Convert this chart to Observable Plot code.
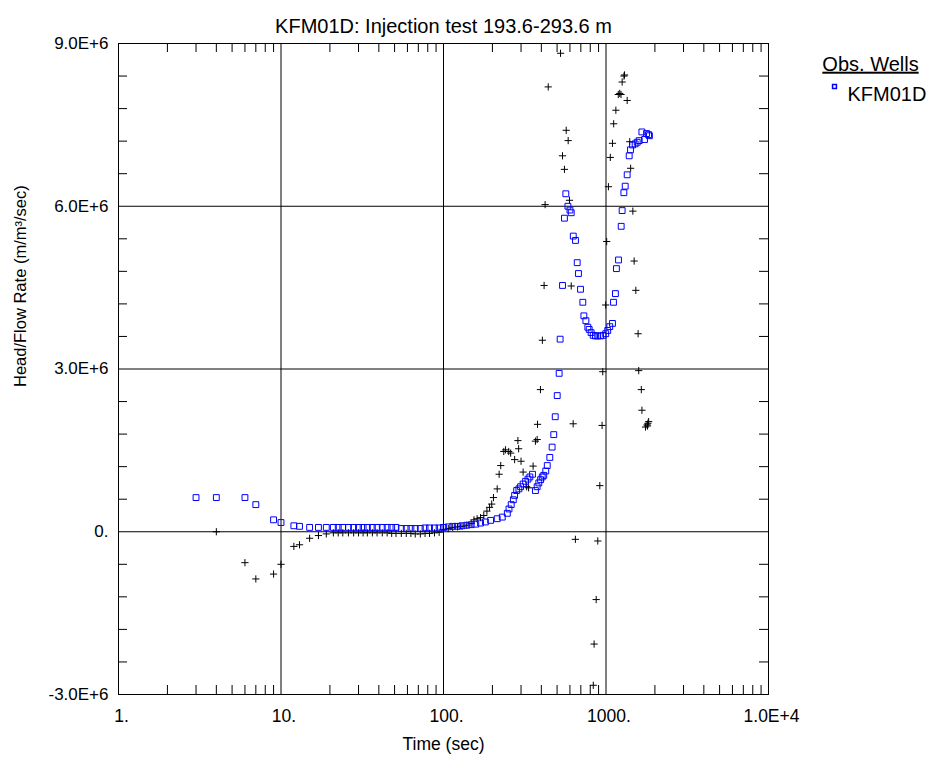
<!DOCTYPE html>
<html><head><meta charset="utf-8">
<script src="https://cdn.jsdelivr.net/npm/d3@7"></script>
<script src="https://cdn.jsdelivr.net/npm/@observablehq/plot@0.6"></script>
<style>
body{margin:0;background:#fff;}
svg{font-family:"Liberation Sans",Arial,sans-serif;}
</style>
</head><body><div id="chart"></div>
<script>
// ---- data (values in millions of m/m³/sec) ----
const headTime = [3,4,6,7,9,10,12,13,15,17,19,21,22.5,24,26,28,30,32,34,36.5,39,42,45,48,51,55,59,63,67,72,77,82,88,94,
  100,107,114,122,130,139,148,158,169,181,195,214,230,247,253,261,269,274,282,291,298,309,320,331,340,353,
  368,377,386,396,405,414,426,435,451,466,477,487,501,515,522,540,555,566,583,600,611,629,649,665,677,697,720,731,752,773,788,810,834,861,890,925,960,996,1025,1055,1096,
  1112,1143,1159,1194,1240,1257,1288,1313,1350,1389,1415,1456,1511,1556,1600,1663,1727,1776,1828,1850];
const headValue = [0.63,0.63,0.63,0.50,0.22,0.17,0.11,0.10,0.08,0.08,0.08,0.08,0.08,0.08,0.08,0.08,0.08,0.08,0.08,0.08,0.08,0.08,0.08,0.08,0.08,0.06,0.06,0.06,0.06,0.06,0.07,0.07,0.07,0.07,
  0.08,0.09,0.10,0.10,0.11,0.12,0.13,0.14,0.16,0.18,0.21,0.24,0.27,0.34,0.42,0.50,0.59,0.67,0.76,0.79,0.83,0.88,0.93,0.97,1.01,1.06,
  0.76,0.83,0.90,0.96,1.01,1.04,1.12,1.22,1.37,1.56,1.79,2.12,2.51,2.92,3.55,4.54,5.78,6.23,6.00,5.93,5.88,5.45,5.37,4.96,4.76,4.47,4.23,3.98,3.89,3.77,3.73,3.67,3.62,3.61,3.61,3.61,3.62,3.65,3.71,3.78,3.84,
  4.23,4.39,4.85,5.01,5.63,5.92,6.25,6.37,6.58,6.93,7.04,7.13,7.15,7.18,7.21,7.37,7.23,7.34,7.32,7.30];

const derivTime = [4,6,7,9,10,12,13,15,17,19,21,22.5,24,26,28,30,32,34,36.5,39,42,45,48,51,55,59,63,67,72,77,82,88,94,
  100,107,114,122,130,139,148,154,161,169,177,185,192,198,203,214,220,225,235,241,252,259,274,287,290,300,309,325,334,356,368,377,379,
  395,406,416,422,441,525,540,555,569,585,596,611,628,648,835,845,870,890,916,946,955,996,1010,1035,1063,1096,1115,1150,1190,1215,1237,1257,1290,1300,
  1350,1400,1418,1463,1490,1526,1576,1590,1649,1664,1750,1790,1800,1810,1830];
const derivValue = [0.0,-0.57,-0.87,-0.78,-0.60,-0.27,-0.24,-0.12,-0.07,-0.04,-0.02,-0.02,-0.02,-0.02,-0.02,-0.02,-0.02,-0.02,-0.02,-0.02,-0.02,-0.02,-0.03,-0.03,-0.03,-0.03,-0.03,-0.04,-0.04,-0.03,-0.03,-0.02,-0.01,
  0.04,0.06,0.08,0.09,0.10,0.12,0.15,0.22,0.24,0.26,0.30,0.38,0.45,0.51,0.63,0.79,1.06,1.22,1.48,1.51,1.48,1.45,1.33,1.68,1.53,1.30,1.10,0.83,0.81,1.21,1.67,1.70,1.98,
  2.62,3.53,4.54,6.03,8.20,8.82,6.93,6.68,7.40,7.21,6.11,4.53,1.99,-0.14,-2.83,-2.07,-1.25,-0.17,0.85,1.96,2.95,4.18,5.35,6.36,6.90,7.16,7.52,7.77,8.06,8.08,8.06,8.29,8.40,8.42,
  7.95,7.19,6.70,5.91,4.99,4.45,3.65,2.97,2.62,2.24,1.93,1.97,1.95,2.00,2.03];

const xTickValues = [1,10,100,1000,10000];
const xTickLabels = ["1.","10.","100.","1000.","1.0E+4"];
const yTickValues = [-3e6,0,3e6,6e6,9e6];
const yTickLabels = ["-3.0E+6","0.","3.0E+6","6.0E+6","9.0E+6"];
const xGrid = [10,100,1000];
const yGrid = [0,3e6,6e6];
const xMinor = [2,3,4,5,6,7,8,9,20,30,40,50,60,70,80,90,200,300,400,500,600,700,800,900,2000,3000,4000,5000,6000,7000,8000,9000];
const yMinor = [-2.4e6,-1.8e6,-1.2e6,-0.6e6,0.6e6,1.2e6,1.8e6,2.4e6,3.6e6,4.2e6,4.8e6,5.4e6,6.6e6,7.2e6,7.8e6,8.4e6];

const titleText = "KFM01D: Injection test 193.6-293.6 m";
const xLabel = "Time (sec)";
const yLabel = "Head/Flow Rate (m/m³/sec)";
const legendTitle = "Obs. Wells";
const legendItem = "KFM01D";

// ---- tables ----
const head = headTime.map((t,i) => ({t, v: headValue[i]*1e6}));
const deriv = derivTime.map((t,i) => ({t, v: derivValue[i]*1e6}));

const plusSymbol = {draw(ctx, size){ const r = Math.sqrt(size/Math.PI); ctx.moveTo(-r,0); ctx.lineTo(r,0); ctx.moveTo(0,-r); ctx.lineTo(0,r);} };

const W = 929, H = 765, mL = 118, mR = 161, mT = 43, mB = 71;
const pw = W - mL - mR, ph = H - mT - mB;
const tick = 9;
const blue = "#0000ff";

const chart = Plot.plot({
  width: W, height: H,
  marginLeft: mL, marginRight: mR, marginTop: mT, marginBottom: mB,
  style: {fontFamily: '"Liberation Sans", Arial, sans-serif', fontSize: "16px", background: "white", color: "black"},
  x: {type: "log", domain: [1, 1e4]},
  y: {domain: [-3e6, 9e6]},
  marks: [
    Plot.ruleX(xGrid, {stroke: "black", strokeWidth: 1}),
    Plot.ruleY(yGrid, {stroke: "black", strokeWidth: 1}),
    Plot.ruleX(xMinor, {insetTop: ph - tick, stroke: "black"}),
    Plot.ruleX(xMinor, {insetBottom: ph - tick, stroke: "black"}),
    Plot.ruleY(yMinor, {insetRight: pw - tick, stroke: "black"}),
    Plot.ruleY(yMinor, {insetLeft: pw - tick, stroke: "black"}),
    Plot.frame({stroke: "black", strokeWidth: 1}),
    Plot.axisX({ticks: xTickValues, tickSize: 0, tickPadding: 15, dx: 3, fontSize: 17.5,
      tickFormat: d => xTickLabels[xTickValues.indexOf(d)], label: null}),
    Plot.axisY({ticks: yTickValues, tickSize: 0, tickPadding: 10, fontSize: 17,
      tickFormat: d => yTickLabels[yTickValues.indexOf(d)], label: null}),
    Plot.dot(deriv, {x: "t", y: "v", symbol: plusSymbol, r: 3.6, fill: "none", stroke: "black", strokeWidth: 1}),
    Plot.dot(head, {x: "t", y: "v", symbol: "square", r: 3.3, fill: "none", stroke: blue, strokeWidth: 1}),
    Plot.text([titleText], {frameAnchor: "top", dy: -25, fontSize: 20}),
    Plot.text([xLabel], {frameAnchor: "bottom", dy: 55, fontSize: 17.5}),
    Plot.text([yLabel], {frameAnchor: "left", dx: -98, dy: 18, rotate: -90, fontSize: 16.5}),
    Plot.text([legendTitle], {frameAnchor: "top-right", dx: 102, dy: 13, textAnchor: "middle", fontSize: 20, className: "legtitle"}),
    Plot.dot([legendItem], {x: null, y: null, frameAnchor: "top-right", dx: 66, dy: 43, symbol: "square", r: 2.2, fill: "none", stroke: blue}),
    Plot.text([legendItem], {frameAnchor: "top-right", dx: 79, dy: 43, textAnchor: "start", fontSize: 20})
  ]
});
document.getElementById("chart").append(chart);
d3.select(chart).selectAll(".legtitle text").style("text-decoration", "underline");
</script>
</body></html>
